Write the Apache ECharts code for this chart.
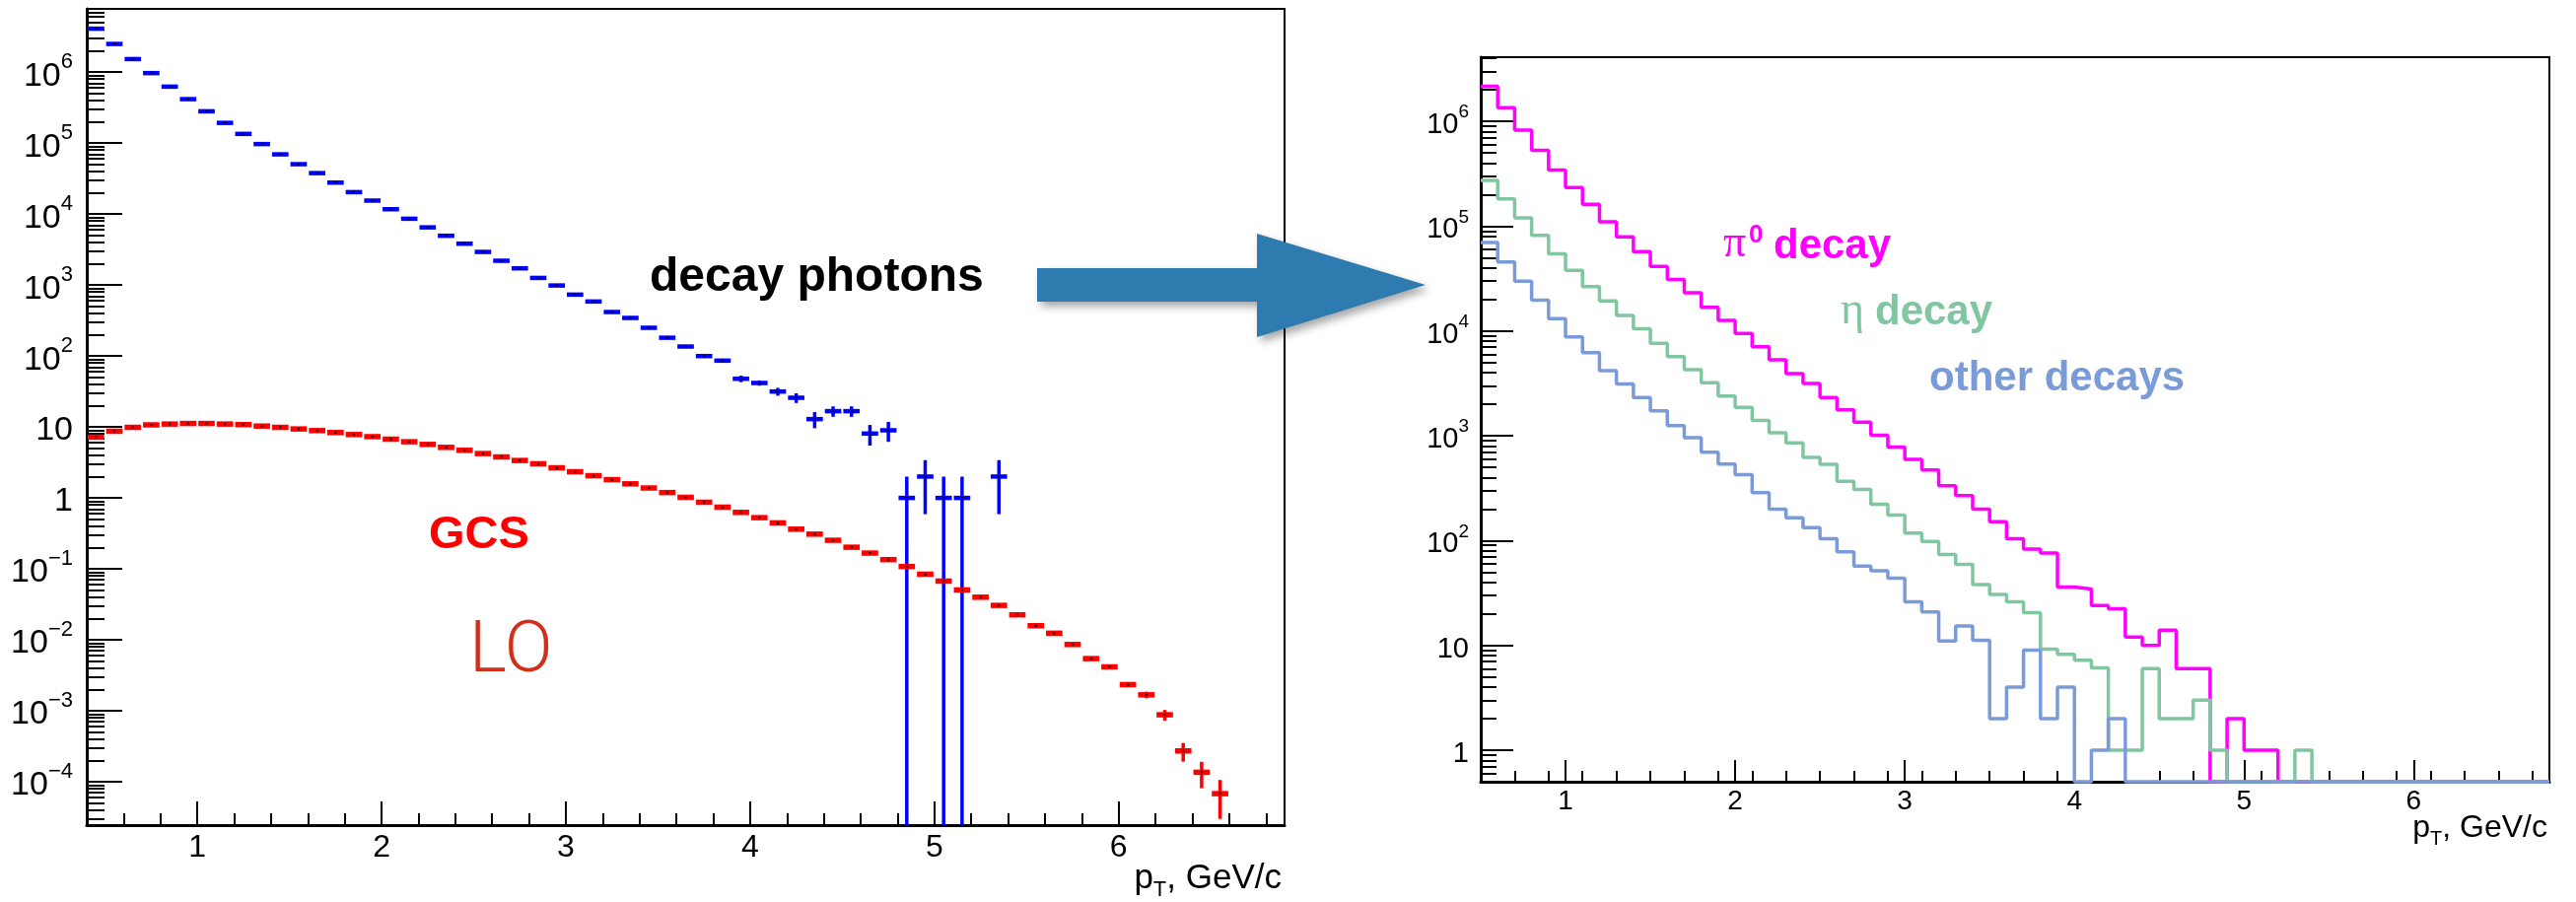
<!DOCTYPE html>
<html>
<head>
<meta charset="utf-8">
<script src="https://cdn.jsdelivr.net/npm/echarts@6/dist/echarts.min.js"></script>
<style>
  html, body { margin: 0; padding: 0; background: #ffffff; }
  #main { width: 2613px; height: 915px; }
</style>
</head>
<body>
<div id="main"></div>
<script>
// ---------- Left panel: decay photons vs. GCS (LO), bin centres in GeV/c ----------
const decayPt = [0.45, 0.55, 0.65, 0.75, 0.85, 0.95, 1.05, 1.15, 1.25, 1.35,
  1.45, 1.55, 1.65, 1.75, 1.85, 1.95, 2.05, 2.15, 2.25, 2.35,
  2.45, 2.55, 2.65, 2.75, 2.85, 2.95, 3.05, 3.15, 3.25, 3.35,
  3.45, 3.55, 3.65, 3.75, 3.85, 3.95, 4.05, 4.15, 4.25, 4.35,
  4.45, 4.55, 4.65, 4.75, 4.85, 4.95, 5.05, 5.15, 5.35];
const decayYield = [4.1e6, 2.5e6, 1.53e6, 9.7e5, 6.25e5, 4.17e5, 2.81e5, 1.93e5, 1.35e5, 9.7e4,
  6.95e4, 5.05e4, 3.78e4, 2.78e4, 2.04e4, 1.55e4, 1.17e4, 8600, 6500, 4950,
  3830, 2930, 2200, 1720, 1260, 986, 733, 586, 417, 344,
  250, 181, 136, 99.8, 86, 47.8, 41.7, 31.6, 25.8, 12.9,
  16.7, 16.7, 8.07, 8.97, 1, 2, 1, 1, 2];
const decayErr = [0, 0, 0, 0, 0, 0, 0, 0, 0, 0,
  0, 0, 0, 0, 0, 0, 0, 0, 0, 0,
  0, 0, 0, 0, 0, 0, 0, 0, 0, 0,
  0, 0, 0, 6, 5.5, 5, 3.5, 4, 4, 3.3,
  2.8, 2.8, 2.6, 2.8, 1, 1.41, 1, 1, 1.41];

const gcsPt = [0.45, 0.55, 0.65, 0.75, 0.85, 0.95, 1.05, 1.15, 1.25, 1.35,
  1.45, 1.55, 1.65, 1.75, 1.85, 1.95, 2.05, 2.15, 2.25, 2.35,
  2.45, 2.55, 2.65, 2.75, 2.85, 2.95, 3.05, 3.15, 3.25, 3.35,
  3.45, 3.55, 3.65, 3.75, 3.85, 3.95, 4.05, 4.15, 4.25, 4.35,
  4.45, 4.55, 4.65, 4.75, 4.85, 4.95, 5.05, 5.15, 5.25, 5.35,
  5.45, 5.55, 5.65, 5.75, 5.85, 5.95, 6.05, 6.15, 6.25, 6.35,
  6.45, 6.55];
const gcsYield = [7.18, 8.7, 9.87, 10.7, 11.0, 11.2, 11.2, 11.0, 10.8, 10.3,
  9.87, 9.37, 8.89, 8.34, 7.82, 7.3, 6.73, 6.19, 5.68, 5.16,
  4.69, 4.22, 3.78, 3.37, 3.03, 2.66, 2.34, 2.06, 1.81, 1.58,
  1.38, 1.19, 1.02, 0.869, 0.741, 0.625, 0.527, 0.445, 0.363, 0.309,
  0.253, 0.202, 0.167, 0.135, 0.108, 0.0842, 0.0673, 0.0505, 0.0399, 0.0306,
  0.0225, 0.0158, 0.0124, 0.0086, 0.00544, 0.00416, 0.00234, 0.00168, 0.000879, 0.000272,
  0.000136, 0.000068];
const gcsErr = [0, 0, 0, 0, 0, 0, 0, 0, 0, 0,
  0, 0, 0, 0, 0, 0, 0, 0, 0, 0,
  0, 0, 0, 0, 0, 0, 0, 0, 0, 0,
  0, 0, 0, 0, 0, 0, 0, 0, 0, 0,
  0, 0, 0, 0, 0, 0, 0, 0, 0, 0,
  0, 0, 0, 0, 0, 0, 0.0002, 0.00018, 0.00015, 0.00008,
  0.000055, 0.000038];

// ---------- Right panel: decay photon spectra by parent, 0.1 GeV/c bins ----------
const binLow = [0.5, 0.6, 0.7, 0.8, 0.9, 1.0, 1.1, 1.2, 1.3, 1.4,
  1.5, 1.6, 1.7, 1.8, 1.9, 2.0, 2.1, 2.2, 2.3, 2.4,
  2.5, 2.6, 2.7, 2.8, 2.9, 3.0, 3.1, 3.2, 3.3, 3.4,
  3.5, 3.6, 3.7, 3.8, 3.9, 4.0, 4.1, 4.2, 4.3, 4.4,
  4.5, 4.6, 4.7, 4.8, 4.9, 5.0, 5.1, 5.2, 5.3, 5.4,
  5.5, 5.6, 5.7, 5.8, 5.9, 6.0, 6.1, 6.2, 6.3, 6.4,
  6.5, 6.6, 6.7];
const pi0Decay = [2.16e6, 1.35e6, 8.27e5, 5.29e5, 3.44e5, 2.34e5, 1.62e5, 1.1e5, 7.93e4, 5.73e4,
  4.14e4, 3.1e4, 2.32e4, 1.68e4, 1.26e4, 9450, 7080, 5310, 3920, 3160,
  2320, 1770, 1350, 1010, 780, 596, 473, 334, 269, 199,
  151, 104, 83, 76, 36, 34.5, 24, 22.4, 12, 10,
  14, 6, 6, 0, 2, 1, 1, 0, 0, 0,
  0, 0, 0, 0, 0, 0, 0, 0, 0, 0,
  0, 0, 0];
const etaDecay = [2.74e5, 1.82e5, 1.2e5, 8.16e4, 5.46e4, 3.8e4, 2.65e4, 1.94e4, 1.41e4, 1.05e4,
  7620, 5700, 4280, 3210, 2400, 1870, 1400, 1070, 856, 622,
  535, 368, 307, 222, 175, 118, 98, 73.6, 59.3, 38,
  30.6, 26, 20.5, 9.2, 8.2, 7.2, 6.1, 1, 1, 6,
  2, 2, 3, 1, 0, 0, 0, 0, 1, 0,
  0, 0, 0, 0, 0, 0, 0, 0, 0, 0,
  0, 0, 0];
const otherDecay = [6.97e4, 4.55e4, 2.99e4, 1.97e4, 1.31e4, 8780, 6210, 4180, 3130, 2320,
  1730, 1250, 960, 695, 538, 425, 286, 199, 165, 133,
  104, 78, 57.2, 51.4, 43.8, 26, 20.9, 11, 15.3, 11.2,
  2, 4, 9, 2, 4, 0, 1, 2, 0, 0,
  0, 0, 0, 0, 0, 0, 0, 0, 0, 0,
  0, 0, 0, 0, 0, 0, 0, 0, 0, 0,
  0, 0, 0];

// ---------- Axis ticks ----------
const ptTicks = [1, 2, 3, 4, 5, 6];
const leftYTicks = [1e-4, 1e-3, 1e-2, 1e-1, 1, 10, 1e2, 1e3, 1e4, 1e5, 1e6];
const rightYTicks = [1, 10, 1e2, 1e3, 1e4, 1e5, 1e6];

const BIN_WIDTH = 0.1;
const L_XMIN = 0.4, L_XMAX = 6.9, L_YMIN = 2.45e-5, L_YMAX = 7.8e6;
const R_XMIN = 0.5, R_XMAX = 6.8, R_YMIN = 0.5, R_YMAX = 4.1e6;

const FONT = '"Liberation Sans", Arial, Helvetica, sans-serif';

// minor ticks: every 0.2 GeV/c between the integer labels
function ptMinor(lo, hi) {
  const out = [];
  for (let k = Math.round(lo * 10); k <= Math.round(hi * 10); k += 2) {
    if (k % 10 !== 0) out.push(k / 10);
  }
  return out;
}
// minor ticks of a log axis: 2..9 times each decade
function logMinor(lo, hi) {
  const out = [];
  for (let d = Math.floor(Math.log10(lo)); d <= Math.ceil(Math.log10(hi)); d++) {
    for (let m = 2; m <= 9; m++) {
      const v = m * Math.pow(10, d);
      if (v >= lo && v <= hi) out.push(v);
    }
  }
  return out;
}

function logLabel(v) {
  const e = Math.round(Math.log10(v));
  if (e === 0) return '{b|1}';
  if (e === 1) return '{b|10}';
  return '{b|10}{e|' + (e < 0 ? '\u2212' + (-e) : e) + '}';
}

const labelRich = (size, expSize) => ({
  b: { fontSize: size, fontFamily: FONT, color: '#000', lineHeight: size + 8, verticalAlign: 'bottom' },
  e: { fontSize: expSize, fontFamily: FONT, color: '#000', lineHeight: expSize, verticalAlign: 'top' }
});

function xAxes(gridIndex, min, max, major, minor, labelSize, margin) {
  return [
    {
      type: 'value', gridIndex, min, max, position: 'bottom',
      axisLine: { show: true, onZero: false, lineStyle: { color: '#000', width: 3 } },
      axisTick: { show: true, inside: true, length: major, customValues: ptTicks, lineStyle: { color: '#000', width: 2 } },
      axisLabel: { show: true, customValues: ptTicks, fontSize: labelSize, fontFamily: FONT, color: '#000', margin },
      splitLine: { show: false }
    },
    {
      type: 'value', gridIndex, min, max, position: 'bottom',
      axisLine: { show: false, onZero: false },
      axisTick: { show: true, inside: true, length: minor, customValues: ptMinor(min, max), lineStyle: { color: '#000', width: 2 } },
      axisLabel: { show: false },
      splitLine: { show: false }
    }
  ];
}

function yAxes(gridIndex, min, max, ticks, major, minor, labelSize, expSize, margin) {
  return [
    {
      type: 'log', logBase: 10, gridIndex, min, max, position: 'left',
      axisLine: { show: true, onZero: false, lineStyle: { color: '#000', width: 3 } },
      axisTick: { show: true, inside: true, length: major, customValues: ticks, lineStyle: { color: '#000', width: 2 } },
      axisLabel: { show: true, customValues: ticks, formatter: logLabel, rich: labelRich(labelSize, expSize), margin },
      splitLine: { show: false }
    },
    {
      type: 'log', logBase: 10, gridIndex, min, max, position: 'left',
      axisLine: { show: false, onZero: false },
      axisTick: { show: true, inside: true, length: minor, customValues: logMinor(min, max), lineStyle: { color: '#000', width: 2 } },
      axisLabel: { show: false },
      splitLine: { show: false }
    }
  ];
}

// marker with bin-width horizontal bar, vertical error bar and a centre dot
function errorMarker(color, barWidth, errWidth, yMin) {
  return function (params, api) {
    const x = api.value(0), y = api.value(1), err = api.value(2);
    const half = BIN_WIDTH / 2;
    const pL = api.coord([x - half, y]);
    const pR = api.coord([x + half, y]);
    const children = [{
      type: 'line',
      shape: { x1: pL[0] + 1, y1: pL[1], x2: pR[0] - 1, y2: pR[1] },
      style: { stroke: color, lineWidth: barWidth }
    }];
    if (err > 0) {
      const lo = y - err > 0 ? y - err : yMin;
      const pTop = api.coord([x, y + err]);
      const pBot = api.coord([x, lo]);
      children.push({
        type: 'line',
        shape: { x1: pTop[0], y1: pTop[1], x2: pBot[0], y2: pBot[1] },
        style: { stroke: color, lineWidth: errWidth }
      });
    }
    const c = api.coord([x, y]);
    children.push({ type: 'rect', shape: { x: c[0] - 1, y: c[1] - 1, width: 2, height: 2 }, style: { fill: '#000' } });
    return { type: 'group', children };
  };
}

// histogram outline points (step after each bin edge); empty bins sit on the axis floor
function histSteps(values, yMin) {
  const pts = binLow.map((x, i) => [x, values[i] > 0 ? values[i] : yMin]);
  const last = values[values.length - 1];
  pts.push([binLow[binLow.length - 1] + BIN_WIDTH, last > 0 ? last : yMin]);
  return pts;
}

function histSeries(name, values, color) {
  return {
    name, type: 'line', xAxisIndex: 2, yAxisIndex: 2,
    step: 'end', symbol: 'none', clip: false, silent: true,
    lineStyle: { color, width: 3.5 },
    data: histSteps(values, R_YMIN)
  };
}

const chart = echarts.init(document.getElementById('main'), null, { renderer: 'canvas' });

const option = {
  animation: false,
  backgroundColor: '#ffffff',
  grid: [
    { left: 88, top: 9, width: 1215, height: 828, show: true, borderColor: '#000', borderWidth: 2, backgroundColor: 'transparent', containLabel: false, outerBoundsMode: 'none' },
    { left: 1502, top: 58, width: 1084, height: 735, show: true, borderColor: '#000', borderWidth: 2, backgroundColor: 'transparent', containLabel: false, outerBoundsMode: 'none' }
  ],
  xAxis: [
    ...xAxes(0, L_XMIN, L_XMAX, 24, 12, 32, 7),
    ...xAxes(1, R_XMIN, R_XMAX, 22, 11, 28, 6)
  ],
  yAxis: [
    ...yAxes(0, L_YMIN, L_YMAX, leftYTicks, 36, 18, 34, 22, 14),
    ...yAxes(1, R_YMIN, R_YMAX, rightYTicks, 33, 16, 29, 19, 12)
  ],
  series: [
    {
      name: 'decay photons', type: 'custom', xAxisIndex: 0, yAxisIndex: 0, silent: true,
      renderItem: errorMarker('#0000ff', 4.5, 3.5, L_YMIN),
      encode: { x: 0, y: 1 },
      data: decayPt.map((x, i) => [x, decayYield[i], decayErr[i]])
    },
    {
      name: 'GCS LO', type: 'custom', xAxisIndex: 0, yAxisIndex: 0, silent: true,
      renderItem: errorMarker('#ff0000', 5.5, 3.5, L_YMIN),
      encode: { x: 0, y: 1 },
      data: gcsPt.map((x, i) => [x, gcsYield[i], gcsErr[i]])
    },
    histSeries('\u03c0\u2070 decay', pi0Decay, '#ff00ff'),
    histSeries('\u03b7 decay', etaDecay, '#80c6a0'),
    histSeries('other decays', otherDecay, '#7b9bd8')
  ],
  graphic: [
    // arrow between the panels
    {
      type: 'polygon', z: 100,
      shape: { points: [[1052, 272], [1275, 272], [1275, 237], [1446, 289], [1275, 342], [1275, 306], [1052, 306]] },
      style: { fill: '#2e7bb0', shadowBlur: 8, shadowOffsetX: 4, shadowOffsetY: 5, shadowColor: 'rgba(0,0,0,0.35)' }
    },
    // left panel annotations
    { type: 'text', z: 50, style: { text: 'decay photons', x: 659, y: 282, font: 'bold 48px ' + FONT, fill: '#000', verticalAlign: 'middle' } },
    { type: 'text', z: 50, style: { text: 'GCS', x: 435, y: 543, font: 'bold 47px ' + FONT, fill: '#ff0000', verticalAlign: 'middle' } },
    { type: 'text', z: 50, style: { text: 'LO', x: 476, y: 663, font: '300 72px Roboto, ' + FONT, fill: '#d0301a', verticalAlign: 'middle' } },
    // right panel annotations
    { type: 'text', z: 50, style: { text: '\u03c0', x: 1748, y: 248, font: '46px "Liberation Serif", "DejaVu Serif", serif', fill: '#ff00ff', verticalAlign: 'middle' } },
    { type: 'text', z: 50, style: { text: '0', x: 1774, y: 239, font: 'bold 26px ' + FONT, fill: '#ff00ff', verticalAlign: 'middle' } },
    { type: 'text', z: 50, style: { text: 'decay', x: 1799, y: 250, font: 'bold 42px ' + FONT, fill: '#ff00ff', verticalAlign: 'middle' } },
    { type: 'text', z: 50, style: { text: '\u03b7', x: 1867, y: 316, font: '46px "Liberation Serif", "DejaVu Serif", serif', fill: '#80c6a0', verticalAlign: 'middle' } },
    { type: 'text', z: 50, style: { text: 'decay', x: 1902, y: 317, font: 'bold 42px ' + FONT, fill: '#80c6a0', verticalAlign: 'middle' } },
    { type: 'text', z: 50, style: { text: 'other decays', x: 1957, y: 384, font: 'bold 42px ' + FONT, fill: '#7b9bd8', verticalAlign: 'middle' } },
    // axis titles
    {
      type: 'text', z: 50,
      style: {
        text: '{p|p}{s|T}{p|, GeV/c}', x: 1300, y: 874, align: 'right', verticalAlign: 'top',
        rich: {
          p: { fontSize: 35, fontFamily: FONT, fill: '#000', lineHeight: 36, verticalAlign: 'top' },
          s: { fontSize: 22, fontFamily: FONT, fill: '#000', lineHeight: 22, padding: [18, 0, 0, 0], verticalAlign: 'top' }
        }
      }
    },
    {
      type: 'text', z: 50,
      style: {
        text: '{p|p}{s|T}{p|, GeV/c}', x: 2584, y: 824, align: 'right', verticalAlign: 'top',
        rich: {
          p: { fontSize: 32, fontFamily: FONT, fill: '#000', lineHeight: 34, verticalAlign: 'top' },
          s: { fontSize: 20, fontFamily: FONT, fill: '#000', lineHeight: 20, padding: [17, 0, 0, 0], verticalAlign: 'top' }
        }
      }
    }
  ]
};

chart.setOption(option);
</script>
</body>
</html>
